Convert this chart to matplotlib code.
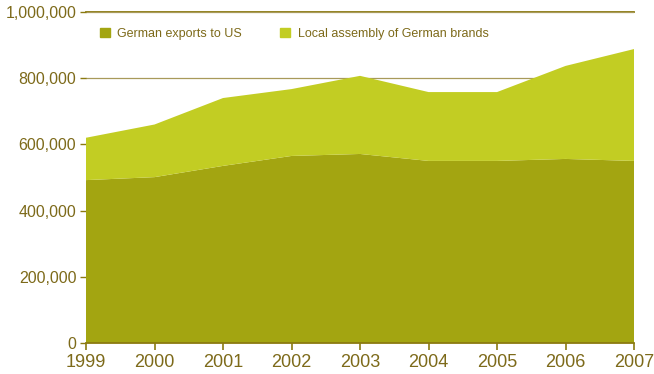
import matplotlib
matplotlib.use("Agg")
import matplotlib.pyplot as plt
from matplotlib.patches import Patch
from matplotlib.ticker import FuncFormatter

years = [1999, 2000, 2001, 2002, 2003, 2004, 2005, 2006, 2007]
exports = [492000, 501000, 535000, 565000, 571000, 550000, 550000, 556000, 550000]
local_assembly = [128000, 159000, 205000, 202000, 236000, 208000, 208000, 281000, 338000]

dark_olive = "#a3a511"
light_olive = "#c2cd23"
text_color = "#7d6a1a"
line_color = "#8b7a10"

plt.rcParams["font.family"] = ["Liberation Sans", "DejaVu Sans"]

fig = plt.figure(figsize=(6.54, 3.74), dpi=100)
ax = fig.add_axes([0.1315, 0.083, 0.838, 0.885])

ax.stackplot(years, exports, local_assembly, colors=[dark_olive, light_olive],
             linewidth=0, zorder=2)

ax.set_xlim(1999, 2007)
ax.set_ylim(0, 1000000)
ax.set_xticks(years)
ax.set_yticks([0, 200000, 400000, 600000, 800000, 1000000])
ax.yaxis.set_major_formatter(FuncFormatter(lambda v, p: f"{int(v):,}"))

# horizontal grid sits behind the areas
ax.grid(axis="y", color="#a89a5a", linewidth=0.9, zorder=0)
ax.axhline(1000000, color=line_color, linewidth=1.3, zorder=1, clip_on=False)

for side in ["left", "right", "top"]:
    ax.spines[side].set_visible(False)
ax.spines["bottom"].set_color(line_color)
ax.spines["bottom"].set_linewidth(1.3)
ax.spines["bottom"].set_zorder(3)

ax.tick_params(axis="x", colors=line_color, labelcolor=text_color, labelsize=13,
               length=5, width=1.2, direction="out", pad=3)
ax.tick_params(axis="y", colors=line_color, labelcolor=text_color, labelsize=11.5,
               length=4, width=1, pad=3)

handles = [Patch(color=dark_olive, label="German exports to US"),
           Patch(color=light_olive, label="Local assembly of German brands")]
leg = ax.legend(handles=handles, ncol=2, frameon=False, loc="upper left",
                bbox_to_anchor=(0.005, 0.986), fontsize=9, handlelength=0.8,
                handleheight=0.8, handletextpad=0.6, columnspacing=3.05)
for t in leg.get_texts():
    t.set_color(text_color)

fig.savefig("out.png", dpi=100)
